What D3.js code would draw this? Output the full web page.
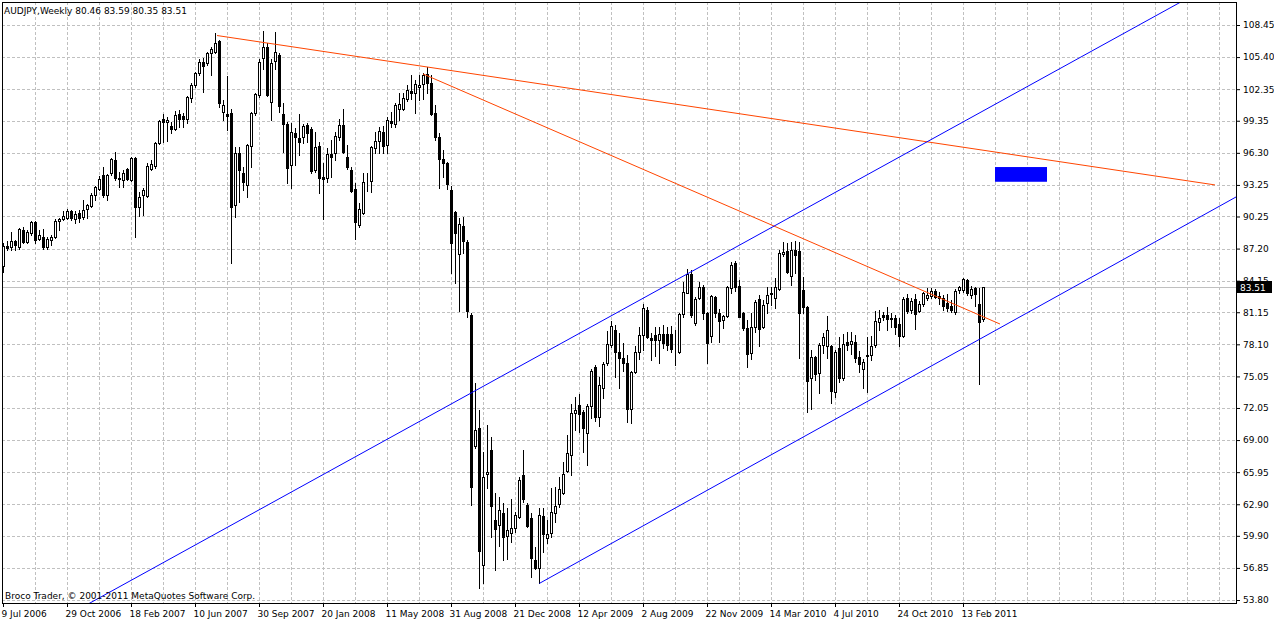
<!DOCTYPE html>
<html>
<head>
<meta charset="utf-8">
<script src="https://cdn.jsdelivr.net/npm/d3@7"></script>
<style>
  body { margin: 0; background: #fff; }
  svg text { font-family: Tahoma, "DejaVu Sans", sans-serif; font-size: 9px; fill: #000; }
</style>
</head>
<body>
<svg id="chart" width="1274" height="620"></svg>
<script>
// weekly AUDJPY bars, first bar = week of 9 Jul 2006
var opens = [
  85.54, 87.4, 87.32, 87.9, 87.38, 88.97, 87.86, 88.65, 89.76, 88.08,
  88.33, 87.32, 88.0, 88.27, 89.85, 89.98, 90.14, 90.77, 89.98, 90.6,
  90.17, 90.93, 91.25, 92.26, 92.9, 94.16, 92.32, 94.35, 95.62, 93.88,
  93.72, 94.77, 93.72, 95.78, 91.12, 92.3, 92.2, 94.77, 95.05, 97.27,
  99.52, 99.2, 98.85, 98.57, 99.96, 99.8, 99.52, 101.5, 102.75, 103.86,
  104.94, 104.81, 105.83, 105.92, 106.97, 100.2, 100.0, 100.06, 91.34, 96.26,
  94.35, 93.25, 96.95, 100.06, 101.8, 105.29, 106.39, 101.17, 105.06, 105.6,
  100.0, 99.04, 95.15, 98.16, 97.68, 97.78, 98.95, 98.54, 94.67, 96.95,
  94.04, 93.88, 96.19, 96.32, 97.78, 98.95, 95.94, 94.67, 92.84, 89.41,
  90.55, 93.6, 93.6, 96.8, 97.46, 98.32, 97.0, 99.32, 99.0, 100.43,
  100.43, 101.38, 102.17, 101.95, 102.6, 102.84, 103.79, 102.9, 100.05, 97.77,
  95.68, 95.3, 92.76, 90.7, 86.68, 89.34, 87.85, 80.88, 68.43, 70.11,
  57.12, 65.74, 68.05, 61.4, 60.92, 62.03, 59.88, 60.13, 60.6, 61.71,
  65.67, 62.82, 61.55, 57.59, 56.8, 61.77, 59.65, 60.13, 62.03, 62.92,
  63.93, 66.09, 67.57, 71.6, 72.33, 71.69, 69.63, 72.23, 75.97, 71.22,
  73.91, 76.35, 78.03, 79.46, 77.4, 76.76, 76.29, 71.91, 75.5, 77.4,
  78.98, 81.36, 78.73, 78.95, 78.5, 79.04, 79.07, 79.07, 77.6, 77.4,
  80.94, 83.0, 84.78, 80.09, 82.46, 83.51, 81.04, 78.88, 82.62, 81.1,
  80.41, 80.79, 83.42, 85.86, 83.64, 81.04, 79.61, 77.24, 79.71, 82.37,
  79.71, 82.05, 83.0, 82.46, 83.32, 86.68, 87.0, 84.59, 87.06, 87.0,
  83.26, 81.61, 74.86, 76.86, 75.4, 78.03, 77.93, 77.93, 73.6, 77.71,
  74.87, 78.35, 78.16, 78.29, 76.93, 75.75, 76.99, 77.09, 78.04, 80.26,
  80.89, 80.89, 80.63, 80.57, 80.0, 78.92, 82.47, 81.36, 82.41, 81.27,
  81.9, 82.47, 82.73, 83.17, 82.69, 82.54, 81.99, 81.77, 81.2, 83.26,
  83.26, 84.21, 82.79, 83.42, 81.9, 80.46
];
var highs = [
  87.7, 87.9, 88.8, 88.0, 89.2, 89.28, 88.97, 89.85, 89.85, 88.97,
  89.1, 88.27, 88.45, 89.98, 90.07, 90.8, 90.93, 90.9, 90.77, 90.87,
  91.82, 91.44, 92.5, 93.15, 94.1, 94.92, 94.29, 95.78, 96.35, 94.45,
  94.67, 94.83, 95.94, 95.9, 92.6, 92.93, 95.3, 95.62, 97.36, 99.42,
  99.96, 99.68, 99.27, 100.31, 100.37, 100.12, 101.7, 102.9, 104.0, 105.19,
  105.29, 105.86, 106.4, 107.66, 107.03, 101.33, 103.6, 100.44, 96.9, 96.9,
  94.99, 97.14, 100.22, 102.02, 105.19, 107.88, 106.77, 105.19, 107.82, 105.76,
  101.0, 99.27, 99.1, 98.63, 100.0, 99.04, 99.17, 98.73, 98.32, 97.36,
  95.3, 96.73, 97.52, 98.32, 99.49, 100.44, 97.05, 94.99, 93.4, 91.57,
  94.35, 94.42, 96.95, 98.32, 98.79, 98.85, 99.74, 100.2, 101.06, 102.0,
  102.0, 102.74, 103.7, 103.22, 103.7, 103.85, 104.49, 103.7, 100.84, 98.15,
  96.57, 95.46, 93.14, 90.8, 90.07, 90.17, 88.0, 81.04, 74.39, 71.9,
  67.9, 70.43, 69.32, 63.93, 63.61, 63.04, 62.5, 63.36, 62.19, 65.52,
  68.05, 63.04, 62.03, 58.86, 62.5, 62.5, 61.39, 64.4, 64.56, 65.52,
  66.94, 69.48, 72.42, 73.1, 73.37, 71.85, 72.42, 75.8, 76.13, 75.02,
  76.45, 79.36, 80.34, 79.93, 79.14, 78.25, 77.08, 75.59, 77.93, 79.77,
  81.93, 81.67, 79.14, 79.71, 79.77, 79.93, 79.77, 79.84, 79.46, 81.04,
  84.05, 85.22, 85.16, 82.62, 84.05, 83.73, 81.2, 82.78, 82.69, 81.42,
  80.88, 83.64, 85.95, 86.05, 84.21, 81.2, 80.41, 81.1, 82.31, 82.78,
  82.31, 83.51, 83.51, 84.37, 87.06, 87.85, 87.69, 87.85, 87.95, 87.85,
  84.52, 81.74, 77.55, 76.98, 78.19, 79.14, 80.78, 78.03, 77.55, 78.82,
  79.05, 79.3, 79.3, 78.99, 77.46, 76.7, 78.83, 78.92, 81.27, 81.36,
  81.2, 81.68, 81.05, 80.89, 80.57, 82.63, 82.85, 82.47, 82.85, 82.22,
  83.1, 83.49, 83.49, 83.36, 83.1, 82.79, 82.85, 82.31, 83.36, 83.67,
  84.44, 84.31, 83.67, 83.58, 83.49, 83.59
];
var lows = [
  85.0, 87.1, 87.1, 87.1, 87.2, 87.7, 87.7, 88.5, 87.7, 88.0,
  87.2, 87.2, 87.54, 88.17, 89.0, 89.9, 89.98, 89.9, 89.66, 89.7,
  89.98, 90.07, 91.12, 91.82, 92.77, 92.13, 91.82, 94.19, 93.72, 93.08,
  93.08, 93.72, 93.65, 88.33, 90.3, 90.4, 92.14, 94.67, 94.9, 97.14,
  97.36, 97.46, 98.2, 98.47, 98.73, 98.79, 99.1, 101.17, 102.6, 103.7,
  102.12, 104.65, 103.7, 105.83, 100.69, 99.42, 98.47, 85.86, 90.2, 91.66,
  92.77, 92.14, 94.99, 99.9, 101.64, 104.24, 101.7, 99.42, 104.24, 100.22,
  96.41, 93.4, 92.93, 95.15, 96.1, 97.27, 97.36, 94.35, 94.51, 92.52,
  89.98, 93.56, 94.04, 95.62, 97.52, 96.32, 94.74, 92.61, 88.08, 89.29,
  90.49, 92.68, 92.61, 96.26, 96.26, 96.26, 96.31, 98.78, 98.78, 99.42,
  100.37, 101.25, 101.38, 100.11, 101.32, 101.38, 102.0, 99.9, 97.52, 92.98,
  94.03, 92.83, 84.9, 83.95, 81.29, 86.74, 80.72, 62.82, 68.2, 54.9,
  55.44, 64.4, 59.81, 56.64, 58.93, 57.59, 57.66, 59.34, 60.29, 61.55,
  63.14, 60.76, 56.01, 56.71, 55.38, 58.39, 59.18, 59.81, 61.24, 62.66,
  63.87, 66.0, 65.67, 69.95, 69.79, 67.89, 66.62, 71.06, 70.84, 70.33,
  72.96, 76.13, 77.81, 75.02, 73.91, 75.59, 70.74, 70.58, 75.4, 76.67,
  77.56, 78.66, 76.6, 76.98, 76.29, 77.71, 77.56, 77.4, 76.13, 77.3,
  80.72, 82.94, 80.72, 79.93, 82.37, 80.47, 76.35, 78.35, 80.72, 78.35,
  79.61, 80.66, 82.94, 83.2, 80.66, 79.45, 75.97, 76.67, 79.3, 77.93,
  79.61, 81.1, 81.83, 81.51, 83.26, 86.49, 84.9, 83.73, 84.9, 76.76,
  81.04, 71.69, 71.91, 74.7, 73.5, 77.24, 76.76, 72.48, 73.12, 74.54,
  74.71, 77.56, 77.15, 76.45, 75.44, 73.98, 73.54, 76.61, 77.88, 79.46,
  80.41, 79.46, 79.78, 79.05, 77.97, 78.83, 81.05, 81.05, 79.56, 81.2,
  81.77, 82.31, 82.47, 82.54, 81.9, 81.36, 81.27, 81.2, 80.95, 82.95,
  83.1, 82.79, 82.47, 81.77, 74.3, 80.35
];
var closes = [
  87.44, 87.3, 87.92, 87.5, 89.06, 87.86, 88.8, 89.7, 88.0, 88.5,
  87.32, 88.1, 88.33, 89.85, 90.0, 90.26, 90.77, 90.14, 90.48, 90.14,
  90.87, 91.31, 92.32, 93.02, 93.81, 92.26, 94.16, 95.68, 93.88, 93.78,
  94.41, 93.81, 95.78, 91.19, 92.14, 92.77, 95.05, 95.24, 97.2, 99.3,
  99.27, 99.4, 98.57, 99.9, 99.55, 99.49, 101.58, 102.75, 103.86, 104.94,
  104.56, 105.76, 106.17, 106.71, 101.0, 100.85, 99.84, 91.12, 96.26, 94.67,
  93.56, 97.05, 100.06, 101.9, 104.97, 106.39, 101.8, 104.87, 105.92, 100.76,
  99.04, 94.9, 98.32, 97.78, 97.36, 98.85, 98.22, 94.61, 96.89, 93.88,
  93.78, 96.19, 95.94, 97.9, 98.95, 96.41, 94.99, 92.71, 89.7, 90.93,
  93.5, 93.66, 96.83, 97.43, 98.38, 96.99, 99.42, 99.1, 100.84, 100.94,
  101.48, 102.27, 101.95, 102.84, 102.78, 103.7, 102.9, 99.99, 97.83, 95.68,
  95.3, 93.33, 87.76, 88.7, 89.53, 87.95, 81.29, 64.57, 69.95, 58.48,
  65.5, 65.99, 62.76, 60.51, 62.35, 59.81, 60.45, 60.6, 61.87, 65.2,
  63.36, 60.83, 57.82, 56.8, 61.87, 60.07, 60.07, 62.13, 62.73, 64.31,
  65.77, 67.73, 71.53, 71.9, 71.44, 70.11, 72.23, 75.56, 71.15, 74.23,
  76.22, 78.1, 79.84, 77.4, 76.76, 76.35, 71.91, 75.43, 77.4, 78.98,
  81.52, 78.82, 78.5, 78.5, 79.04, 78.19, 78.03, 77.65, 77.56, 80.94,
  83.1, 84.78, 80.88, 82.37, 83.51, 81.1, 78.25, 82.69, 81.1, 80.34,
  80.79, 83.51, 85.63, 83.57, 80.72, 79.61, 77.17, 79.71, 82.15, 79.52,
  81.83, 82.78, 82.88, 83.51, 86.74, 86.9, 85.0, 87.06, 86.58, 81.1,
  81.67, 74.64, 76.92, 75.27, 78.03, 78.82, 79.46, 73.69, 77.4, 74.86,
  78.13, 78.04, 78.42, 76.77, 76.23, 76.39, 77.1, 77.97, 80.32, 80.63,
  80.73, 80.51, 80.51, 79.78, 78.92, 82.41, 81.27, 82.22, 80.95, 81.9,
  82.95, 82.79, 83.17, 82.63, 82.54, 81.77, 81.52, 81.36, 83.17, 83.58,
  84.31, 82.95, 83.36, 82.85, 80.19, 83.51
];

// time axis labels, one every 16 bars
var dateLabels = ["9 Jul 2006", "29 Oct 2006", "18 Feb 2007", "10 Jun 2007", "30 Sep 2007",
  "20 Jan 2008", "11 May 2008", "31 Aug 2008", "21 Dec 2008", "12 Apr 2009", "2 Aug 2009",
  "22 Nov 2009", "14 Mar 2010", "4 Jul 2010", "24 Oct 2010", "13 Feb 2011"];
var priceLabels = ["108.45", "105.40", "102.35", "99.35", "96.30", "93.25", "90.25", "87.20",
  "84.15", "81.15", "78.10", "75.05", "72.05", "69.00", "65.95", "62.90", "59.90", "56.85", "53.80"];

// drawn objects: trend lines (bar index, price) and the blue box
var orangeLines = [
  [[53.5, 107.45], [303, 93.25]],
  [[105, 103.8], [249.25, 80.03]]
];
var blueLines = [
  [[20, 53.15], [300, 111.8]],
  [[134.1, 55.38], [320, 94.58]]
];
var boxBars = [248, 261];
var boxPrices = [93.55, 94.95];
var lastPrice = 83.51;
var title = "AUDJPY,Weekly  80.46 83.59 80.35 83.51";

var plot = { left: 2, right: 1236, top: 2, bottom: 603 };

var x = d3.scaleLinear().domain([0, 308.25]).range([3, 1236]);
var y = d3.scaleLinear().domain([53.80, 108.45]).range([600, 25]);

var svg = d3.select("#chart");

svg.append("defs").append("clipPath").attr("id", "plotclip")
  .append("rect")
  .attr("x", plot.left).attr("y", plot.top)
  .attr("width", plot.right - plot.left).attr("height", plot.bottom - plot.top);

//grid
var grid = svg.append("g").attr("shape-rendering", "crispEdges");
var vGrid = d3.range(8, 309, 8).filter(function(d) { return x(d) < plot.right; });
grid.selectAll(".vg").data(vGrid).join("line")
  .attr("x1", function(d) { return x(d) + 0.5; })
  .attr("x2", function(d) { return x(d) + 0.5; })
  .attr("y1", plot.top).attr("y2", plot.bottom)
  .attr("stroke", "#c0c0c0").attr("stroke-dasharray", "3,2");
grid.selectAll(".hg").data(priceLabels).join("line")
  .attr("x1", plot.left).attr("x2", plot.right)
  .attr("y1", function(d) { return Math.round(y(+d)) + 0.5; })
  .attr("y2", function(d) { return Math.round(y(+d)) + 0.5; })
  .attr("stroke", "#c0c0c0").attr("stroke-dasharray", "3,2");

// current price line
svg.append("line")
  .attr("x1", plot.left).attr("x2", plot.right)
  .attr("y1", Math.round(y(lastPrice)) + 0.5).attr("y2", Math.round(y(lastPrice)) + 0.5)
  .attr("stroke", "#c0c0c0").attr("shape-rendering", "crispEdges");

// candles
var bars = opens.map(function(o, i) {
  var c = closes[i];
  return { i: i, o: o, c: c, h: Math.max(highs[i], o, c), l: Math.min(lows[i], o, c) };
});

var candles = svg.append("g").attr("shape-rendering", "crispEdges");
candles.selectAll(".wick").data(bars).join("line")
  .attr("x1", function(d) { return Math.round(x(d.i)) + 0.5; })
  .attr("x2", function(d) { return Math.round(x(d.i)) + 0.5; })
  .attr("y1", function(d) { return Math.round(y(d.h)); })
  .attr("y2", function(d) { return Math.round(y(d.l)) + 1; })
  .attr("stroke", "#000");
candles.selectAll(".body").data(bars).join("rect")
  .attr("x", function(d) { return Math.round(x(d.i)) - 0.5; })
  .attr("width", 2)
  .attr("y", function(d) { return Math.round(y(Math.max(d.o, d.c))) + 0.5; })
  .attr("height", function(d) {
    return Math.round(y(Math.min(d.o, d.c))) - Math.round(y(Math.max(d.o, d.c)));
  })
  .attr("fill", function(d) { return d.c >= d.o ? "#fff" : "#000"; })
  .attr("stroke", "#000");

// trend lines
var lines = svg.append("g").attr("clip-path", "url(#plotclip)");
lines.selectAll(".orange").data(orangeLines).join("line")
  .attr("x1", function(d) { return x(d[0][0]); }).attr("y1", function(d) { return y(d[0][1]); })
  .attr("x2", function(d) { return x(d[1][0]); }).attr("y2", function(d) { return y(d[1][1]); })
  .attr("stroke", "#ff4500").attr("stroke-width", 1);
lines.selectAll(".blue").data(blueLines).join("line")
  .attr("x1", function(d) { return x(d[0][0]); }).attr("y1", function(d) { return y(d[0][1]); })
  .attr("x2", function(d) { return x(d[1][0]); }).attr("y2", function(d) { return y(d[1][1]); })
  .attr("stroke", "#0000ff").attr("stroke-width", 1);

svg.append("rect")
  .attr("x", x(boxBars[0])).attr("width", x(boxBars[1]) - x(boxBars[0]))
  .attr("y", y(boxPrices[1])).attr("height", y(boxPrices[0]) - y(boxPrices[1]))
  .attr("fill", "#0000ff");

// frame
svg.append("rect")
  .attr("x", plot.left + 0.5).attr("y", plot.top + 0.5)
  .attr("width", plot.right - plot.left).attr("height", plot.bottom - plot.top)
  .attr("fill", "none").attr("stroke", "#000").attr("shape-rendering", "crispEdges");

// axes
var yAxis = d3.axisRight(y)
  .tickValues(priceLabels.map(Number))
  .tickFormat(function(d, i) { return priceLabels[i]; })
  .tickSize(4).tickPadding(3);
var gy = svg.append("g").attr("transform", "translate(" + plot.right + ",0)").call(yAxis);
gy.select(".domain").remove();
gy.selectAll("text").attr("font-size", null).attr("font-family", null);

var xAxis = d3.axisBottom(x)
  .tickValues(dateLabels.map(function(d, i) { return i * 16; }))
  .tickFormat(function(d, i) { return dateLabels[i]; })
  .tickSize(4).tickPadding(4);
var gx = svg.append("g").attr("transform", "translate(0," + plot.bottom + ")").call(xAxis);
gx.select(".domain").remove();
gx.selectAll("text").attr("text-anchor", "start").attr("x", -2)
  .attr("font-size", null).attr("font-family", null);

// last price tag
var tagY = Math.round(y(lastPrice));
svg.append("rect")
  .attr("x", plot.right + 1).attr("y", tagY - 6).attr("width", 35).attr("height", 12)
  .attr("fill", "#000");
svg.append("text")
  .attr("x", plot.right + 4).attr("y", tagY + 3.5)
  .style("fill", "#fff").text(lastPrice.toFixed(2));

// captions
svg.append("text").attr("x", 4).attr("y", 14).text(title);
svg.append("text").attr("x", 5).attr("y", 599)
  .text("Broco Trader, \u00a9 2001-2011 MetaQuotes Software Corp.");
</script>
</body>
</html>
